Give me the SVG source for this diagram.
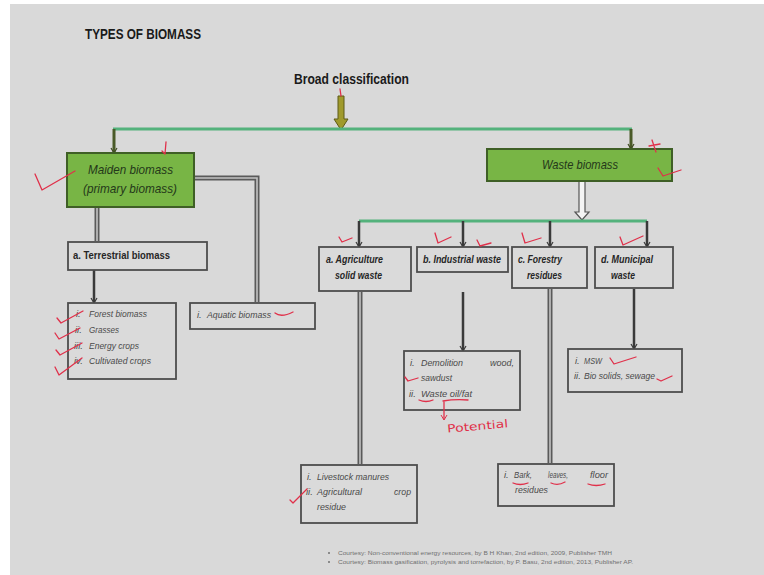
<svg xmlns="http://www.w3.org/2000/svg" width="764" height="575" viewBox="0 0 764 575">
<defs>
<marker id="ah" markerWidth="8" markerHeight="8" refX="6" refY="4" orient="auto" markerUnits="userSpaceOnUse" viewBox="0 0 8 8">
<path d="M2,1 L7,4 L2,7" fill="none" stroke="#3a3a3a" stroke-width="1.2"/>
</marker>
<marker id="ahg" markerWidth="8" markerHeight="8" refX="6" refY="4" orient="auto" markerUnits="userSpaceOnUse" viewBox="0 0 8 8">
<path d="M2,1 L7,4 L2,7" fill="none" stroke="#3e4a22" stroke-width="1.2"/>
</marker>
<marker id="rah" markerWidth="8" markerHeight="8" refX="6" refY="4" orient="auto" markerUnits="userSpaceOnUse" viewBox="0 0 8 8">
<path d="M2,1 L7,4 L2,7" fill="none" stroke="#e0304a" stroke-width="1"/>
</marker>
</defs>
<style>
.bg{fill:#d9d9d9}
.gbox{fill:#78b545;stroke:#3f5f26;stroke-width:2}
.box{fill:#dadada;stroke:#4d4d4d;stroke-width:1.8}
.gline{stroke:#54b27c;stroke-width:3;fill:none}
.drop{stroke:#3a3a3a;stroke-width:2.5;fill:none}
.gdrop{stroke:#4a5a28;stroke-width:3;fill:none}
.dblo{stroke:#5a5a5a;stroke-width:5;fill:none}
.dbli{stroke:#c4c4c4;stroke-width:1.6;fill:none}
.title{font-family:"Liberation Sans",Arial,sans-serif;font-weight:bold;fill:#1a1a1a}
.gt{font-family:"Liberation Sans",Arial,sans-serif;font-style:italic;font-size:13px;fill:#24381a}
.lbl{font-family:"Liberation Sans",Arial,sans-serif;font-weight:bold;font-style:italic;font-size:10px;fill:#262626}
.lbn{font-family:"Liberation Sans",Arial,sans-serif;font-weight:bold;font-size:10.5px;fill:#262626}
.it{font-family:"Liberation Sans",Arial,sans-serif;font-style:italic;font-size:9.5px;fill:#4a4a4a}
.ct{font-family:"Liberation Sans",Arial,sans-serif;font-size:5.5px;fill:#707070}
.red{stroke:#e0304a;stroke-width:1.3;fill:none;stroke-linecap:round;stroke-linejoin:round}
.rt{font-family:"DejaVu Sans",sans-serif;font-size:11px;fill:#e0304a}
</style>
<rect x="0" y="0" width="764" height="575" fill="#ffffff"/>
<rect class="bg" x="10" y="4" width="754" height="571"/>

<text class="title" x="85" y="39" font-size="15" textLength="116" lengthAdjust="spacingAndGlyphs">TYPES OF BIOMASS</text>
<text class="title" x="294" y="84" font-size="15" textLength="115" lengthAdjust="spacingAndGlyphs">Broad classification</text>

<g id="connectors">
  <path d="M338,96 L344,96 L344,119 L348,119 L341,130 L334,119 L338,119 Z" fill="#a09a2c" stroke="#5d5a16" stroke-width="1"/>
  <line class="gline" x1="113" y1="129" x2="632" y2="129"/>
  <line class="gdrop" x1="114" y1="129" x2="114" y2="152" marker-end="url(#ahg)"/>
  <line class="gdrop" x1="631" y1="129" x2="631" y2="148" marker-end="url(#ahg)"/>
  <path class="dblo" d="M194,178 L257,178 L257,302"/>
  <path class="dbli" d="M194,178 L257,178 L257,302"/>
  <line class="dblo" x1="97" y1="206" x2="97" y2="241"/>
  <line class="dbli" x1="97" y1="206" x2="97" y2="241"/>
  <line class="drop" x1="94" y1="270" x2="94" y2="302" marker-end="url(#ah)"/>
  <path d="M579,181 L579,212 L575,212 L582,220 L589,212 L585,212 L585,181" fill="#f4f4f4" stroke="#555" stroke-width="1.2"/>
  <line class="gline" x1="359" y1="221" x2="647" y2="221"/>
  <line class="drop" x1="359" y1="221" x2="359" y2="246" marker-end="url(#ah)"/>
  <line class="drop" x1="463" y1="221" x2="463" y2="246" marker-end="url(#ah)"/>
  <line class="drop" x1="550" y1="221" x2="550" y2="246" marker-end="url(#ah)"/>
  <line class="drop" x1="647" y1="221" x2="647" y2="246" marker-end="url(#ah)"/>
  <line class="dblo" x1="360" y1="292" x2="360" y2="464"/>
  <line class="dbli" x1="360" y1="292" x2="360" y2="464"/>
  <line class="drop" x1="463" y1="292" x2="463" y2="350" marker-end="url(#ah)"/>
  <line class="dblo" x1="550" y1="289" x2="550" y2="463"/>
  <line class="dbli" x1="550" y1="289" x2="550" y2="463"/>
  <line class="drop" x1="634" y1="289" x2="634" y2="348" marker-end="url(#ah)"/>
</g>

<g id="maiden">
  <rect class="gbox" x="67" y="153" width="127" height="54"/>
  <text class="gt" x="88" y="174" textLength="85" lengthAdjust="spacingAndGlyphs">Maiden biomass</text>
  <text class="gt" x="83" y="193" textLength="94" lengthAdjust="spacingAndGlyphs">(primary biomass)</text>
</g>
<g id="waste">
  <rect class="gbox" x="487" y="149" width="185" height="32"/>
  <text class="gt" x="542" y="169" textLength="76" lengthAdjust="spacingAndGlyphs">Waste biomass</text>
</g>
<g id="terrestrial">
  <rect class="box" x="68" y="242" width="139" height="28"/>
  <text class="lbn" x="73" y="259" textLength="97" lengthAdjust="spacingAndGlyphs">a. Terrestrial biomass</text>
</g>
<g id="terrestrial-list">
  <rect class="box" x="68" y="303" width="108" height="76"/>
  <text class="it" x="76" y="317">i.</text><text class="it" x="89" y="317" textLength="58" lengthAdjust="spacingAndGlyphs">Forest biomass</text>
  <text class="it" x="75" y="333">ii.</text><text class="it" x="89" y="333" textLength="30" lengthAdjust="spacingAndGlyphs">Grasses</text>
  <text class="it" x="74" y="349">iii.</text><text class="it" x="89" y="349" textLength="50" lengthAdjust="spacingAndGlyphs">Energy crops</text>
  <text class="it" x="74" y="364">iv.</text><text class="it" x="89" y="364" textLength="62" lengthAdjust="spacingAndGlyphs">Cultivated crops</text>
</g>
<g id="aquatic">
  <rect class="box" x="190" y="303" width="125" height="26"/>
  <text class="it" x="197" y="318">i.</text><text class="it" x="207" y="318" textLength="64" lengthAdjust="spacingAndGlyphs">Aquatic biomass</text>
</g>
<g id="agriculture">
  <rect class="box" x="319" y="247" width="92" height="44"/>
  <text class="lbl" x="326" y="263" textLength="57" lengthAdjust="spacingAndGlyphs">a. Agriculture</text>
  <text class="lbl" x="335" y="279" textLength="47" lengthAdjust="spacingAndGlyphs">solid waste</text>
</g>
<g id="industrial">
  <rect class="box" x="417" y="247" width="91" height="25"/>
  <text class="lbl" x="423" y="263" textLength="78" lengthAdjust="spacingAndGlyphs">b. Industrial waste</text>
</g>
<g id="forestry">
  <rect class="box" x="512" y="247" width="75" height="41"/>
  <text class="lbl" x="518" y="263" textLength="44" lengthAdjust="spacingAndGlyphs">c. Forestry</text>
  <text class="lbl" x="527" y="279" textLength="35" lengthAdjust="spacingAndGlyphs">residues</text>
</g>
<g id="municipal">
  <rect class="box" x="595" y="247" width="78" height="41"/>
  <text class="lbl" x="601" y="263" textLength="52" lengthAdjust="spacingAndGlyphs">d. Municipal</text>
  <text class="lbl" x="611" y="279" textLength="24" lengthAdjust="spacingAndGlyphs">waste</text>
</g>
<g id="industrial-list">
  <rect class="box" x="404" y="351" width="116" height="59"/>
  <text class="it" x="410" y="366">i.</text>
  <text class="it" x="421" y="366" textLength="42" lengthAdjust="spacingAndGlyphs">Demolition</text>
  <text class="it" x="490" y="366" textLength="24" lengthAdjust="spacingAndGlyphs">wood,</text>
  <text class="it" x="421" y="381" textLength="31" lengthAdjust="spacingAndGlyphs">sawdust</text>
  <text class="it" x="409" y="397">ii.</text>
  <text class="it" x="421" y="397" textLength="51" lengthAdjust="spacingAndGlyphs">Waste oil/fat</text>
</g>
<g id="municipal-list">
  <rect class="box" x="568" y="349" width="114" height="43"/>
  <text class="it" x="575" y="364">i.</text>
  <text class="it" x="584" y="364" textLength="18" lengthAdjust="spacingAndGlyphs">MSW</text>
  <text class="it" x="574" y="379">ii.</text>
  <text class="it" x="584" y="379" textLength="71" lengthAdjust="spacingAndGlyphs">Bio solids, sewage</text>
</g>
<g id="agri-list">
  <rect class="box" x="301" y="465" width="116" height="58"/>
  <text class="it" x="307" y="480">i.</text>
  <text class="it" x="317" y="480" textLength="72" lengthAdjust="spacingAndGlyphs">Livestock manures</text>
  <text class="it" x="306" y="495">ii.</text>
  <text class="it" x="317" y="495" textLength="45" lengthAdjust="spacingAndGlyphs">Agricultural</text>
  <text class="it" x="394" y="495" textLength="17" lengthAdjust="spacingAndGlyphs">crop</text>
  <text class="it" x="317" y="510" textLength="29" lengthAdjust="spacingAndGlyphs">residue</text>
</g>
<g id="forestry-list">
  <rect class="box" x="498" y="464" width="116" height="42"/>
  <text class="it" x="504" y="478">i.</text>
  <text class="it" x="514" y="478" textLength="18" lengthAdjust="spacingAndGlyphs">Bark,</text>
  <text class="it" x="548" y="478" textLength="20" lengthAdjust="spacingAndGlyphs">leaves,</text>
  <text class="it" x="590" y="478" textLength="18" lengthAdjust="spacingAndGlyphs">floor</text>
  <text class="it" x="515" y="493" textLength="33" lengthAdjust="spacingAndGlyphs">residues</text>
</g>
<g id="courtesy">
  <circle cx="329" cy="553" r="1" fill="#707070"/>
  <circle cx="329" cy="562" r="1" fill="#707070"/>
  <text class="ct" x="338" y="555" textLength="274" lengthAdjust="spacingAndGlyphs">Courtesy: Non-conventional energy resources, by B H Khan, 2nd edition, 2009, Publisher TMH</text>
  <text class="ct" x="338" y="564" textLength="295" lengthAdjust="spacingAndGlyphs">Courtesy: Biomass gasification, pyrolysis and torrefaction, by P. Basu, 2nd edition, 2013, Publisher AP.</text>
</g>
<g id="annotations">
  <path class="red" d="M340,89 L341,96"/>
  <path class="red" d="M35,174 L42,190 L75,171"/>
  <path class="red" d="M166,142 L165,154 L162,151"/>
  <path class="red" d="M652,140 L656,152 M649,146 L660,144"/>
  <path class="red" d="M658,168 L663,176 L681,170"/>
  <path class="red" d="M339,237 L342,242 L352,238"/>
  <path class="red" d="M435,233 L438,243 L451,237"/>
  <path class="red" d="M477,240 L480,246 L491,243"/>
  <path class="red" d="M522,233 L525,243 L541,238"/>
  <path class="red" d="M620,237 L623,245 L643,236"/>
  <path class="red" d="M57,318 L61,323 L83,311"/>
  <path class="red" d="M55,333 L59,339 L80,328"/>
  <path class="red" d="M56,350 L60,355 L82,343"/>
  <path class="red" d="M55,367 L59,375 L82,358"/>
  <path class="red" d="M275,313 Q281,318 293,312"/>
  <path class="red" d="M405,377 L408,381 L418,378"/>
  <path class="red" d="M419,400 Q426,403 433,400 M443,401 Q455,399 468,400"/>
  <path class="red" d="M444,402 L444,419" marker-end="url(#rah)"/>
  <text class="rt" x="447" y="430" textLength="61" lengthAdjust="spacingAndGlyphs" transform="rotate(-5 477 425)">Potential</text>
  <path class="red" d="M610,358 L614,364 L636,357"/>
  <path class="red" d="M657,379 L661,381 L672,376"/>
  <path class="red" d="M290,500 L293,503 L307,489"/>
  <path class="red" d="M513,483 Q520,486 528,483 M551,483 Q558,486 565,482 M588,484 Q596,487 605,484"/>
</g>
</svg>
